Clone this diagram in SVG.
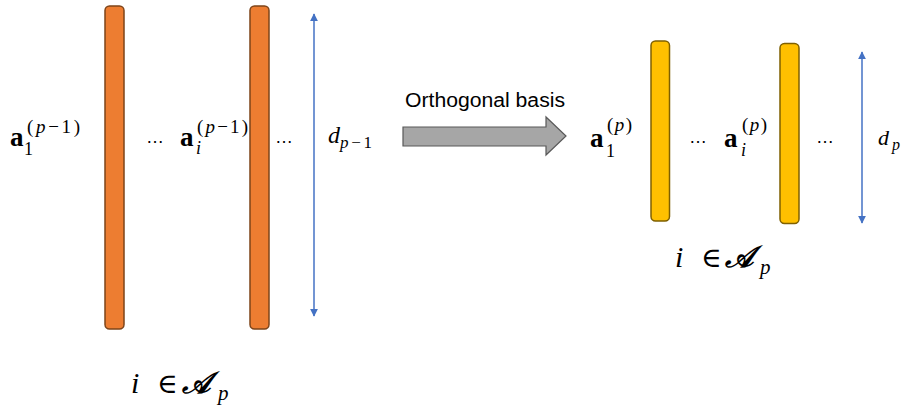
<svg xmlns="http://www.w3.org/2000/svg" width="903" height="408" viewBox="0 0 903 408">
<style>
.bg{fill:#ffffff}
.orange{fill:#ED7D31;stroke:#7E4419;stroke-width:1.5}
.yellow{fill:#FFC000;stroke:#7F6000;stroke-width:1.5}
.dim{stroke:#4472C4;stroke-width:1.5;fill:none}
.big{fill:#A6A6A6;stroke:#595959;stroke-width:1.2}
.m{font-family:"Liberation Serif","DejaVu Serif",serif;fill:#000}
.b{font-weight:bold}
.it{font-style:italic}
.dots{font-family:"Liberation Sans",Arial,sans-serif;font-size:18px;fill:#000}
.lbl{font-family:"Liberation Sans",Arial,sans-serif;font-size:20px;fill:#000}
</style>
<defs>
<marker id="ah" viewBox="0 0 10 10" refX="9" refY="5" markerWidth="8" markerHeight="8" markerUnits="userSpaceOnUse" orient="auto-start-reverse">
<path d="M0,0 L10,5 L0,10 z" fill="#4472C4"/>
</marker>
</defs>
<rect class="bg" x="0" y="0" width="903" height="408"/>

<g id="bar-left-1"><rect class="orange" x="105" y="6" width="19" height="323" rx="4.5"/></g>
<g id="bar-left-i"><rect class="orange" x="250" y="6" width="19" height="323" rx="4.5"/></g>
<g id="bar-right-1"><rect class="yellow" x="651" y="41" width="18.5" height="180" rx="4.5"/></g>
<g id="bar-right-i"><rect class="yellow" x="780" y="43.5" width="19" height="180" rx="4.5"/></g>

<g id="connectors">
<line class="dim" x1="314" y1="14" x2="314" y2="316" marker-start="url(#ah)" marker-end="url(#ah)"/>
<line class="dim" x1="862" y1="52" x2="862" y2="223" marker-start="url(#ah)" marker-end="url(#ah)"/>
<path class="big" d="M403,127 L546,127 L546,117 L566,136 L546,155 L546,146 L403,146 Z"/>
</g>

<g id="label-orthogonal"><text class="lbl" x="405" y="107" textLength="160" lengthAdjust="spacingAndGlyphs">Orthogonal basis</text></g>

<g id="label-a1-prev">
<text class="m b" x="10" y="146" font-size="27">a</text>
<text class="m" x="24" y="155" font-size="18">1</text>
<text class="m" x="27" y="133" font-size="19" textLength="53" lengthAdjust="spacing">(<tspan class="it">p</tspan>−1)</text>
</g>
<g id="dots-left-1"><text class="dots" x="146" y="143">…</text></g>
<g id="label-ai-prev">
<text class="m b" x="180" y="146" font-size="27">a</text>
<text class="m it" x="196" y="154" font-size="18">i</text>
<text class="m" x="197" y="133" font-size="19" textLength="51" lengthAdjust="spacing">(<tspan class="it">p</tspan>−1)</text>
</g>
<g id="dots-left-2"><text class="dots" x="275" y="143">…</text></g>
<g id="label-d-prev">
<text class="m it" x="328" y="143" font-size="24">d</text>
<text class="m" x="340" y="148" font-size="17" textLength="32" lengthAdjust="spacing"><tspan class="it">p</tspan>−1</text>
</g>

<g id="label-a1-p">
<text class="m b" x="590" y="147" font-size="27">a</text>
<text class="m" x="606" y="157" font-size="18">1</text>
<text class="m" x="607" y="131" font-size="19" textLength="25" lengthAdjust="spacing">(<tspan class="it">p</tspan>)</text>
</g>
<g id="dots-right-1"><text class="dots" x="689" y="143">…</text></g>
<g id="label-ai-p">
<text class="m b" x="724" y="147" font-size="27">a</text>
<text class="m it" x="741" y="156" font-size="18">i</text>
<text class="m" x="742" y="131" font-size="19" textLength="25" lengthAdjust="spacing">(<tspan class="it">p</tspan>)</text>
</g>
<g id="dots-right-2"><text class="dots" x="816" y="143">…</text></g>
<g id="label-d-p">
<text class="m it" x="878" y="145" font-size="22">d</text>
<text class="m it" x="892" y="150" font-size="16">p</text>
</g>

<g id="set-left">
<text class="m it" x="131" y="393" font-size="30">i</text>
<text class="m" x="157" y="393" font-size="28">∈</text>
<text class="m it b" x="182" y="393" font-size="30">𝒜</text>
<text class="m it" x="218" y="400" font-size="21">p</text>
</g>
<g id="set-right">
<text class="m it" x="675" y="267" font-size="30">i</text>
<text class="m" x="701" y="267" font-size="28">∈</text>
<text class="m it b" x="725" y="267" font-size="30">𝒜</text>
<text class="m it" x="760" y="274" font-size="21">p</text>
</g>
</svg>
